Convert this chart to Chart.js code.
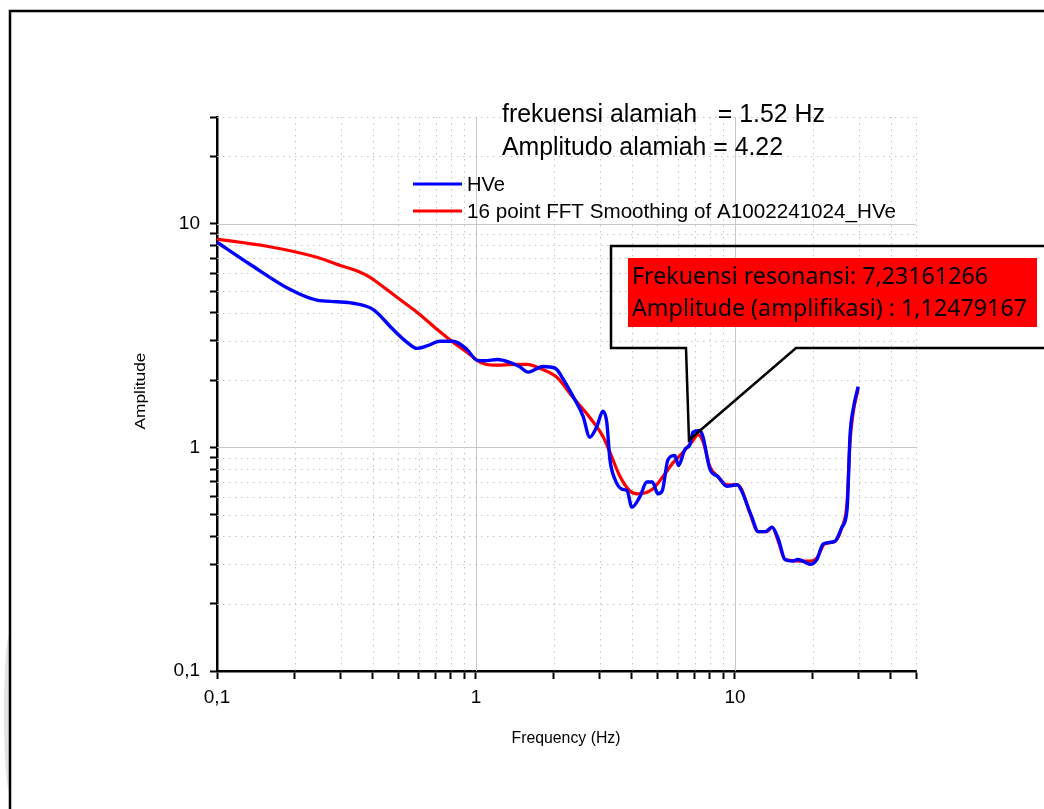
<!DOCTYPE html>
<html>
<head>
<meta charset="utf-8">
<script src="https://cdn.jsdelivr.net/npm/chart.js@4/dist/chart.umd.min.js"></script>
<style>
  html, body { margin: 0; padding: 0; background: #fff; }
  #wrap { width: 1044px; height: 809px; position: relative; }
</style>
</head>
<body>
<div id="wrap"><canvas id="hvChart" width="1044" height="809"></canvas></div>
<script>
// HVSR curve (raw): frequency (Hz) / amplitude
const hveFreq = [0.1, 0.134, 0.191, 0.243, 0.29, 0.335, 0.40, 0.478, 0.542, 0.592, 0.65, 0.726, 0.815, 0.923,
  1.01, 1.08, 1.21, 1.35, 1.47, 1.59, 1.81, 2.02, 2.17, 2.37, 2.59, 2.75, 2.93, 3.09, 3.20, 3.29, 3.44, 3.66,
  3.83, 4.0, 4.29, 4.57, 4.8, 5.04, 5.24, 5.51, 5.86, 6.05, 6.41, 6.70, 6.88, 7.33, 7.53, 8.0, 8.59, 9.31,
  10.2, 10.6, 11.6, 12.3, 13.1, 13.9, 14.7, 15.6, 16.7, 17.5, 18.3, 19.5, 20.7, 21.9, 24.3, 25.9, 27.1, 27.5,
  27.8, 28.6, 29.9];
const hveAmp = [8.27, 6.59, 5.09, 4.55, 4.48, 4.41, 4.14, 3.37, 2.95, 2.77, 2.85, 2.98, 2.98, 2.74,
  2.45, 2.44, 2.47, 2.40, 2.30, 2.17, 2.30, 2.26, 2.02, 1.69, 1.38, 1.11, 1.24, 1.45, 1.29, 0.88, 0.72, 0.65,
  0.64, 0.54, 0.60, 0.70, 0.70, 0.62, 0.64, 0.88, 0.92, 0.83, 0.98, 1.03, 1.17, 1.19, 1.11, 0.80, 0.74, 0.67,
  0.68, 0.64, 0.49, 0.42, 0.42, 0.44, 0.39, 0.315, 0.31, 0.315, 0.31, 0.30, 0.315, 0.37, 0.38, 0.44, 0.53, 0.80,
  1.12, 1.48, 1.87];

// 16 point FFT smoothing
const smoothFreq = [0.1, 0.156, 0.243, 0.306, 0.35, 0.39, 0.43, 0.478, 0.532, 0.592, 0.707, 0.815, 0.923,
  1.04, 1.16, 1.44, 1.57, 1.81, 2.05, 2.37, 2.75, 3.09, 3.29, 3.60, 3.92, 4.22, 4.8, 5.27, 5.75, 6.30, 6.83,
  7.20, 7.53, 8.0, 8.59, 9.31, 10.2, 10.6, 11.4, 12.3, 13.3, 13.9, 14.7, 15.6, 19.5, 20.7, 22.2, 24.3, 25.9,
  27.1, 27.8, 28.6, 29.9];
const smoothAmp = [8.53, 7.93, 7.08, 6.45, 6.13, 5.76, 5.31, 4.84, 4.41, 4.02, 3.37, 2.95, 2.66,
  2.40, 2.33, 2.35, 2.35, 2.23, 2.06, 1.67, 1.36, 1.12, 0.95, 0.74, 0.64, 0.62, 0.65, 0.74, 0.85, 0.95, 1.06,
  1.14, 1.06, 0.82, 0.74, 0.68, 0.68, 0.65, 0.51, 0.42, 0.42, 0.44, 0.38, 0.315, 0.31, 0.32, 0.37, 0.38, 0.44,
  0.57, 1.05, 1.43, 1.82];

// axis ticks and the few that carry labels
const xTicks = [0.1, 0.2, 0.3, 0.4, 0.5, 0.6, 0.7, 0.8, 0.9, 1, 2, 3, 4, 5, 6, 7, 8, 9, 10, 20, 30, 40, 50];
const yTicks = [0.1, 0.2, 0.3, 0.4, 0.5, 0.6, 0.7, 0.8, 0.9, 1, 2, 3, 4, 5, 6, 7, 8, 9, 10, 20, 30];
const labelAt = [0.1, 1, 10];
const labelText = ['0,1', '1', '10'];
const majorGrid = [1, 10];

const seriesNames = ['HVe', '16 point FFT Smoothing of A1002241024_HVe'];
const titleLines = ['frekuensi alamiah   = 1.52 Hz', 'Amplitudo alamiah = 4.22'];
const calloutLines = ['Frekuensi resonansi: 7,23161266', 'Amplitude (amplifikasi) : 1,12479167'];

const BLUE = '#0000ff';
const RED = '#ff0000';
const SANS = '"Liberation Sans", Arial, sans-serif';

function points(xs, ys) {
  return xs.map((x, i) => ({ x, y: ys[i] }));
}

// draw text squeezed/stretched to a target width
function fitText(ctx, text, x, y, size, width, family, align) {
  ctx.save();
  ctx.font = size + 'px ' + family;
  const w = ctx.measureText(text).width;
  ctx.translate(x, y);
  ctx.scale(width / w, 1);
  ctx.textAlign = align || 'left';
  ctx.textBaseline = 'alphabetic';
  ctx.fillText(text, 0, 0);
  ctx.restore();
}

const gridPlugin = {
  id: 'gridLines',
  beforeDatasetsDraw(chart) {
    const { ctx, chartArea: a, scales } = chart;
    ctx.save();
    ctx.lineWidth = 1;
    const line = (x1, y1, x2, y2, major) => {
      ctx.strokeStyle = major ? '#c8c8c8' : '#c4c4c4';
      ctx.setLineDash(major ? [] : [1.5, 4.5]);
      ctx.beginPath();
      ctx.moveTo(x1, y1);
      ctx.lineTo(x2, y2);
      ctx.stroke();
    };
    xTicks.slice(1).forEach(v => {
      const px = Math.round(scales.x.getPixelForValue(v)) + 0.5;
      line(px, a.top, px, a.bottom, majorGrid.includes(v));
    });
    yTicks.slice(1).forEach(v => {
      const py = Math.round(scales.y.getPixelForValue(v)) + 0.5;
      line(a.left, py, a.right, py, majorGrid.includes(v));
    });
    ctx.restore();
  },
  afterDraw(chart) {
    const ctx = chart.ctx;
    ctx.save();

    // page frame
    ctx.fillStyle = '#e2e2e2';
    ctx.beginPath();
    ctx.ellipse(10, 713, 6, 80, 0, Math.PI / 2, Math.PI * 1.5);
    ctx.fill();
    ctx.strokeStyle = '#000';
    ctx.lineWidth = 2.5;
    ctx.beginPath();
    ctx.moveTo(1044, 11);
    ctx.lineTo(10, 11);
    ctx.lineTo(10, 809);
    ctx.stroke();

    ctx.fillStyle = '#000';
    // titles
    fitText(ctx, titleLines[0], 502, 122, 26, 323, SANS);
    fitText(ctx, titleLines[1], 502, 155, 26, 281, SANS);

    // legend
    ctx.lineWidth = 3;
    ctx.strokeStyle = BLUE;
    ctx.beginPath(); ctx.moveTo(413, 184); ctx.lineTo(462, 184); ctx.stroke();
    ctx.strokeStyle = RED;
    ctx.beginPath(); ctx.moveTo(413, 211); ctx.lineTo(462, 211); ctx.stroke();
    fitText(ctx, seriesNames[0], 467, 191, 21, 38, SANS);
    fitText(ctx, seriesNames[1], 467, 218, 21, 429, SANS);

    // axis titles
    fitText(ctx, 'Frequency (Hz)', 566, 743, 16, 109, SANS, 'center');
    ctx.save();
    ctx.translate(145, 391);
    ctx.rotate(-Math.PI / 2);
    fitText(ctx, 'Amplitude', 0, 0, 14, 77, SANS, 'center');
    ctx.restore();

    // callout with pointer
    ctx.strokeStyle = '#000';
    ctx.lineWidth = 2.5;
    ctx.beginPath();
    ctx.moveTo(1046, 246);
    ctx.lineTo(611, 246);
    ctx.lineTo(611, 348);
    ctx.lineTo(686, 348);
    ctx.lineTo(689, 440);
    ctx.lineTo(796, 348);
    ctx.lineTo(1046, 348);
    ctx.stroke();
    ctx.fillStyle = RED;
    ctx.fillRect(628, 258, 409, 69);
    ctx.fillStyle = '#000';
    fitText(ctx, calloutLines[0], 632, 284, 23, 356, '"Noto Sans", sans-serif');
    fitText(ctx, calloutLines[1], 632, 316, 23, 395, '"Noto Sans", sans-serif');

    ctx.restore();
  }
};

function tickLabel(value) {
  const i = labelAt.findIndex(v => Math.abs(v - value) < 1e-9);
  return i >= 0 ? labelText[i] : '';
}

new Chart(document.getElementById('hvChart'), {
  type: 'line',
  data: {
    datasets: [
      {
        label: seriesNames[0],
        data: points(hveFreq, hveAmp),
        borderColor: BLUE,
        borderWidth: 3.4,
        pointRadius: 0,
        cubicInterpolationMode: 'monotone',
      },
      {
        label: seriesNames[1],
        data: points(smoothFreq, smoothAmp),
        borderColor: RED,
        borderWidth: 3.2,
        pointRadius: 0,
        cubicInterpolationMode: 'monotone',
      },
    ],
  },
  options: {
    responsive: false,
    animation: false,
    devicePixelRatio: 1,
    layout: { padding: { left: 117, top: 117, right: 128, bottom: 38 } },
    plugins: { legend: { display: false }, tooltip: { enabled: false } },
    scales: {
      x: {
        type: 'logarithmic',
        min: 0.1,
        max: 50,
        afterBuildTicks: s => { s.ticks = xTicks.map(v => ({ value: v })); },
        afterFit: s => { s.height = 100; },
        grid: { drawOnChartArea: false, drawTicks: true, tickLength: 8, tickColor: '#000', tickWidth: 2 },
        border: { display: true, color: '#000', width: 2.5 },
        ticks: {
          autoSkip: false,
          maxRotation: 0,
          padding: 7,
          color: '#000',
          font: { size: 19, family: SANS },
          callback: tickLabel,
        },
      },
      y: {
        type: 'logarithmic',
        min: 0.1,
        max: 30,
        afterBuildTicks: s => { s.ticks = yTicks.map(v => ({ value: v })); },
        afterFit: s => { s.width = 100; },
        grid: { drawOnChartArea: false, drawTicks: true, tickLength: 7, tickColor: '#000', tickWidth: 2 },
        border: { display: true, color: '#000', width: 2.5 },
        ticks: {
          autoSkip: false,
          padding: 10,
          color: '#000',
          font: { size: 19, family: SANS },
          callback: tickLabel,
        },
      },
    },
  },
  plugins: [gridPlugin],
});
</script>
</body>
</html>
